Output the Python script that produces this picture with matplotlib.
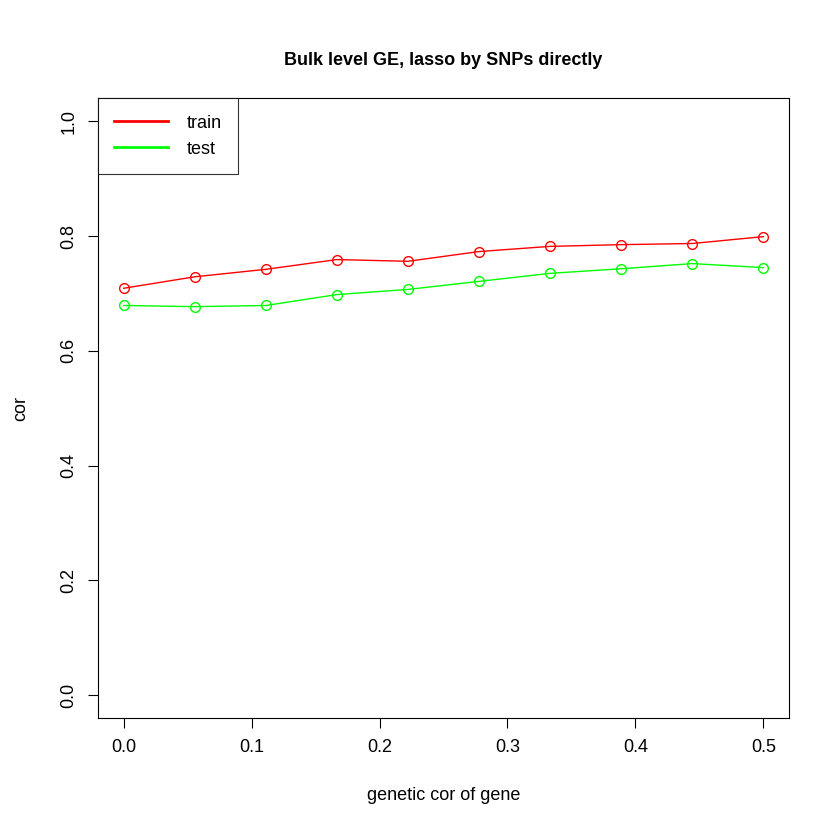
import numpy as np
import matplotlib
matplotlib.use("Agg")
import matplotlib.pyplot as plt

x = np.arange(10) / 18
train = [0.709, 0.729, 0.742, 0.759, 0.756, 0.773, 0.782, 0.785, 0.787, 0.799]
test = [0.679, 0.677, 0.679, 0.698, 0.707, 0.721, 0.735, 0.743, 0.752, 0.745]

plt.rcParams['font.family'] = ['Liberation Sans', 'DejaVu Sans']
fig = plt.figure(figsize=(8.4, 8.4), dpi=100)
ax = fig.add_axes([0.1167, 0.145, 0.8226, 0.738])

ax.plot(x, train, color='red', lw=1, marker='o', mfc='none', ms=7, label='train')
ax.plot(x, test, color='#00ff00', lw=1, marker='o', mfc='none', ms=7, label='test')

ax.set_xlim(-0.02, 0.52)
ax.set_ylim(-0.04, 1.04)
ax.set_xticks([0, 0.1, 0.2, 0.3, 0.4, 0.5])
ax.set_yticks([0, 0.2, 0.4, 0.6, 0.8, 1.0])
ax.set_yticklabels(['0.0', '0.2', '0.4', '0.6', '0.8', '1.0'], rotation=90, va='center')
ax.tick_params(labelsize=13, length=7, pad=8)
ax.set_title('Bulk level GE, lasso by SNPs directly', fontsize=13, fontweight='bold', pad=24)
ax.set_xlabel('genetic cor of gene', fontsize=13, labelpad=22)
ax.set_ylabel('cor', fontsize=13, labelpad=22)

leg = ax.legend(loc='upper left', fontsize=13, frameon=True, fancybox=False,
                borderaxespad=0, handlelength=3, borderpad=0.9,
                handletextpad=1.0, labelspacing=0.5)
leg.get_frame().set_edgecolor('black')
leg.get_frame().set_linewidth(0.8)
for h in leg.legend_handles:
    h.set_marker('')
    h.set_linewidth(2)

fig.savefig('out.png', dpi=100)
